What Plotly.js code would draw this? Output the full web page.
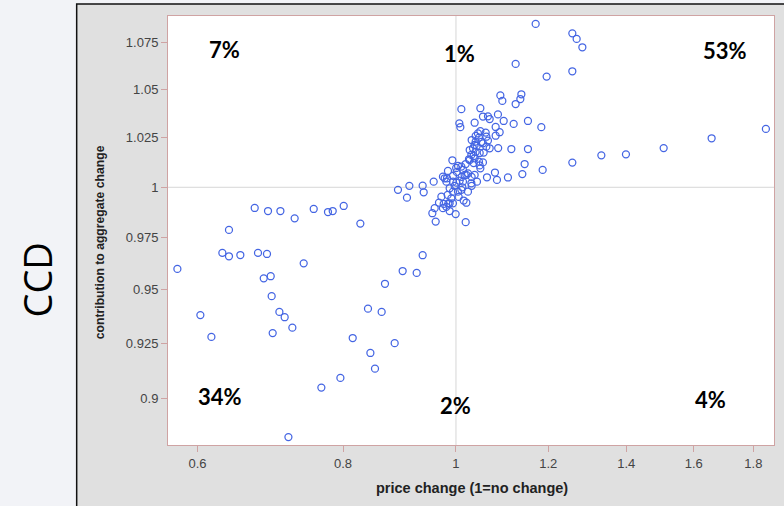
<!DOCTYPE html>
<html>
<head>
<meta charset="utf-8">
<script src="https://cdn.plot.ly/plotly-3.0.1.min.js"></script>
<style>
  html, body { margin: 0; padding: 0; background: #f2f3f7; }
  #chart { width: 784px; height: 506px; }
</style>
</head>
<body>
<div id="chart"></div>
<script>
// Price change per item (1 = no change)
const priceChange = [
  0.5766, 0.6034, 0.6167, 0.6302, 0.6385, 0.6385, 0.6530, 0.6718, 0.6762, 0.6839,
  0.6883, 0.6897, 0.6934, 0.6947, 0.6961, 0.7054, 0.7068, 0.7128, 0.7181, 0.7237,
  0.7270, 0.7401, 0.7549, 0.7664, 0.7765, 0.7838, 0.7958, 0.8010, 0.8154, 0.8278,
  0.8404, 0.8444, 0.8521, 0.8634, 0.8691, 0.8859, 0.8917, 0.9000, 0.9077, 0.9120,
  0.9253, 0.9363, 0.9382, 0.9363,
  1.1706, 1.2586, 1.2694, 1.2838, 1.1252, 1.2586, 1.1963, 1.0917, 1.0960, 1.1380,
  1.1357, 1.1252, 1.0107, 1.0494, 1.0067, 1.0087, 1.0376, 1.0548, 1.0653, 1.0689,
  1.0865, 1.0989, 1.1208, 1.1529, 1.1838, 1.0816, 1.0902, 1.0816, 1.0605, 1.0619,
  1.0494, 1.0444, 1.0397, 1.0465, 1.0515, 1.0653, 1.0397, 1.0376, 1.0342, 1.0275,
  1.0309, 1.0260, 1.0548, 1.0619, 1.0689, 1.0870, 1.1157, 1.1529, 1.0563, 1.0480,
  1.0397, 1.0356, 0.9929, 1.0275, 1.0376, 1.0465, 1.0548, 1.0494, 1.0480, 1.1454,
  1.0801, 1.1402, 1.1869, 1.2586, 1.3329, 1.3993, 1.5076, 1.6575, 1.8452, 1.0632,
  1.0844, 1.1082, 1.0424, 1.0309, 1.0040, 1.0107, 1.0139, 1.0004, 1.0240, 1.0173,
  1.0376, 0.9843, 0.9746, 0.9779, 0.9812, 0.9569, 0.9941, 1.0008, 1.0073, 1.0139,
  0.9876, 0.9941, 1.0040, 1.0107, 1.0240, 1.0127, 0.9716, 0.9909, 0.9876, 1.0153,
  1.0208, 0.9812, 0.9746, 0.9876, 0.9994, 1.0194, 0.9588, 0.9544, 0.9607, 0.9670,
  0.9851, 0.9824, 0.9941, 1.0014, 1.0208, 1.0315, 1.0113, 0.9974, 1.0315, 0.9837,
  0.9760, 1.0053, 1.0356, 1.0194, 1.0418, 1.0315, 0.9941
];

// Contribution of each item to the aggregate change
const contribution = [
  0.9600, 0.9381, 0.9279, 0.9677, 0.9789, 0.9661, 0.9667, 0.9897, 0.9677, 0.9555,
  0.9672, 0.9882, 0.9565, 0.9470, 0.9297, 0.9396, 0.9882, 0.9371, 0.8826, 0.9322,
  0.9846, 0.9627, 0.9892, 0.9047, 0.9877, 0.9882, 0.9091, 0.9907, 0.9274, 0.9820,
  0.9411, 0.9205, 0.9133, 0.9396, 0.9529, 0.9250, 0.9987, 0.9590, 0.9948, 1.0007,
  0.9581, 1.0008, 0.9975, 0.9666,
  1.0851, 1.0800, 1.0770, 1.0725, 1.0636, 1.0597, 1.0569, 1.0470, 1.0441, 1.0476,
  1.0451, 1.0425, 1.0398, 1.0403, 1.0325, 1.0305, 1.0328, 1.0360, 1.0361, 1.0347,
  1.0371, 1.0337, 1.0322, 1.0337, 1.0305, 1.0306, 1.0279, 1.0261, 1.0277, 1.0256,
  1.0285, 1.0273, 1.0260, 1.0251, 1.0229, 1.0236, 1.0231, 1.0214, 1.0197, 1.0188,
  1.0163, 1.0141, 1.0222, 1.0205, 1.0197, 1.0198, 1.0193, 1.0193, 1.0175, 1.0173,
  1.0178, 1.0158, 1.0136, 1.0137, 1.0146, 1.0129, 1.0125, 1.0095, 1.0110, 1.0117,
  1.0074, 1.0066, 1.0087, 1.0124, 1.0161, 1.0166, 1.0198, 1.0248, 1.0296, 1.0050,
  1.0037, 1.0049, 1.0028, 1.0020, 1.0107, 1.0104, 1.0087, 1.0097, 1.0070, 1.0062,
  1.0062, 1.0082, 1.0053, 1.0045, 1.0028, 1.0028, 1.0028, 1.0023, 1.0033, 1.0028,
  0.9995, 0.9978, 0.9978, 0.9987, 0.9978, 1.0000, 0.9953, 0.9945, 0.9920, 0.9934,
  0.9923, 0.9903, 0.9896, 0.9882, 0.9867, 0.9827, 0.9896, 0.9871, 0.9830, 0.9923,
  0.9920, 1.0045, 1.0057, 1.0077, 1.0062, 1.0052, 1.0052, 1.0007, 1.0007, 0.9962,
  0.9917, 0.9952, 1.0122, 1.0117, 1.0209, 1.0239, 0.9920
];

// Axis ticks
const xTickVals = [0.6, 0.8, 1, 1.2, 1.4, 1.6, 1.8];
const xTickText = ['0.6', '0.8', '1', '1.2', '1.4', '1.6', '1.8'];
const yTickVals = [0.9, 0.925, 0.95, 0.975, 1, 1.025, 1.05, 1.075];
const yTickText = ['0.9', '0.925', '0.95', '0.975', '1', '1.025', '1.05', '1.075'];

// Share of items in each quadrant
const quadrantLabels = ['7%', '1%', '53%', '34%', '2%', '4%'];

const xTitle = 'price change (1=no change)';
const yTitle = 'contribution to aggregate change';
const sideLabel = 'CCD';

const noChange = 1;
const xSpan = [0.5, 2.0];
const ySpan = [0.85, 1.1];

const frameColor = '#cfa3a3';
const refColor = '#d6d6d6';

const traces = [
  {
    x: [noChange, noChange], y: ySpan, mode: 'lines',
    line: { color: refColor, width: 1 }, hoverinfo: 'skip', showlegend: false
  },
  {
    x: xSpan, y: [noChange, noChange], mode: 'lines',
    line: { color: refColor, width: 1 }, hoverinfo: 'skip', showlegend: false
  },
  {
    x: priceChange, y: contribution, mode: 'markers', type: 'scatter',
    marker: { symbol: 'circle-open', size: 7, color: '#4465e3', line: { width: 1.25 } },
    showlegend: false
  }
];

// Paper positions of the quadrant labels
const labelPos = [
  [0.0927, 0.921], [0.4814, 0.913], [0.9187, 0.919],
  [0.0853, 0.113], [0.4739, 0.092], [0.8955, 0.105]
];

const annotations = quadrantLabels.map((t, i) => ({
  text: t, xref: 'paper', yref: 'paper',
  x: labelPos[i][0], y: labelPos[i][1],
  xanchor: 'center', yanchor: 'middle', showarrow: false,
  font: { family: 'Lato, "Liberation Sans", sans-serif', size: 22, color: '#000', weight: 'bold' }
}));

// axis titles
annotations.push({
  text: xTitle, xref: 'paper', yref: 'paper',
  x: 0.5012, y: -0.1002, xanchor: 'center', yanchor: 'middle', showarrow: false,
  font: { family: '"Liberation Sans", Arial, sans-serif', size: 14.5, color: '#222', weight: 'bold' }
});
annotations.push({
  text: yTitle, xref: 'paper', yref: 'paper', textangle: -90,
  x: -0.1127, y: 0.472, xanchor: 'center', yanchor: 'middle', showarrow: false,
  font: { family: '"Liberation Sans", Arial, sans-serif', size: 12.2, color: '#222', weight: 'bold' }
});

annotations.push({
  text: sideLabel, xref: 'paper', yref: 'paper',
  x: -0.2167, y: 0.385, textangle: -90, showarrow: false,
  xanchor: 'center', yanchor: 'middle',
  font: { family: '"Open Sans", sans-serif', size: 38, color: '#000' }
});

const layout = {
  width: 784, height: 506,
  margin: { l: 168, r: 10, t: 16, b: 61 },
  paper_bgcolor: 'rgba(0,0,0,0)',
  plot_bgcolor: 'rgba(0,0,0,0)',
  showlegend: false,
  font: { family: '"Liberation Sans", Arial, sans-serif', color: '#333' },
  xaxis: {
    type: 'log', range: [Math.log10(0.566), Math.log10(1.875)],
    tickvals: xTickVals, ticktext: xTickText,
    showgrid: false, zeroline: false,
    showline: true, mirror: true, linecolor: frameColor, linewidth: 1,
    ticks: 'outside', ticklen: 6, tickcolor: frameColor,
    tickfont: { size: 13, color: '#444' }
  },
  yaxis: {
    type: 'log', range: [Math.log10(0.8791), Math.log10(1.0894)],
    tickvals: yTickVals, ticktext: yTickText,
    showgrid: false, zeroline: false,
    showline: true, mirror: true, linecolor: frameColor, linewidth: 1,
    ticks: 'outside', ticklen: 6, tickcolor: frameColor,
    tickfont: { size: 13, color: '#444' }
  },
  shapes: [
    // grey panel with dark frame
    { type: 'rect', xref: 'paper', yref: 'paper', layer: 'below',
      x0: -0.1507, x1: 1.3, y0: -0.4, y1: 1.028,
      fillcolor: '#e0e0e0', line: { color: '#111', width: 1.5 } },
    // white plotting area
    { type: 'rect', xref: 'paper', yref: 'paper', layer: 'below',
      x0: 0, x1: 1, y0: 0, y1: 1,
      fillcolor: '#ffffff', line: { width: 0 } }
  ],
  annotations: annotations
};

Plotly.newPlot('chart', traces, layout, { displayModeBar: false, staticPlot: true });
</script>
</body>
</html>
